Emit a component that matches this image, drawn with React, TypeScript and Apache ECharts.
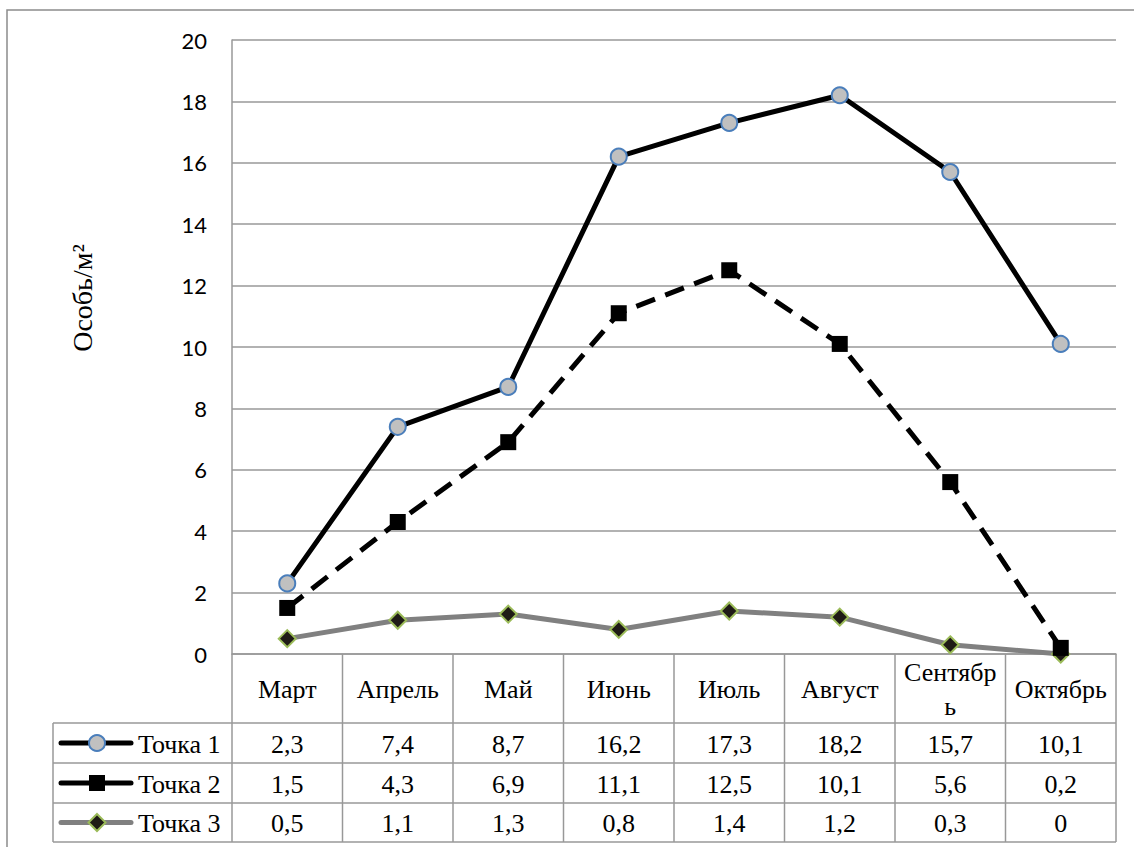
import React, { useEffect, useRef } from "react";
import * as echarts from "echarts";

const months = ["Март", "Апрель", "Май", "Июнь", "Июль", "Август", "Сентябрь", "Октябрь"];
const seriesNames = ["Точка 1", "Точка 2", "Точка 3"];
const point1 = [2.3, 7.4, 8.7, 16.2, 17.3, 18.2, 15.7, 10.1];
const point2 = [1.5, 4.3, 6.9, 11.1, 12.5, 10.1, 5.6, 0.2];
const point3 = [0.5, 1.1, 1.3, 0.8, 1.4, 1.2, 0.3, 0];
const yTicks = { min: 0, max: 20, interval: 2 };
const yTitle = "Особь/м²";

const GRID = "#989898";
const SERIF = "Liberation Serif";
const SANS = "Lato";

export default function App() {
  const ref = useRef<HTMLDivElement>(null);
  useEffect(() => {
    document.body.style.margin = "0";
    const chart = echarts.init(ref.current!, null, { renderer: "svg" });
    const styles = [
      {
        line: { color: "#000", width: 5, type: "solid" },
        symbol: "circle",
        size: 16,
        item: { color: "#c0c0c0", borderColor: "#4a7ebb", borderWidth: 2 },
      },
      {
        line: { color: "#000", width: 5, type: [20, 11] },
        symbol: "rect",
        size: 16,
        item: { color: "#000", borderColor: "#000", borderWidth: 0 },
      },
      {
        line: { color: "#808080", width: 5, type: "solid" },
        symbol: "diamond",
        size: 17,
        item: { color: "#1f1b16", borderColor: "#9bbb59", borderWidth: 2 },
      },
    ];
    const data = [point1, point2, point3];
    const option: any = {
      animation: false,
      textStyle: { fontFamily: SERIF },
      grid: { left: 232, right: 18, top: 40, bottom: 193 },
      xAxis: {
        type: "category",
        data: months,
        boundaryGap: true,
        axisLine: { show: true, lineStyle: { color: GRID, width: 1.5 } },
        axisTick: { show: false },
        splitLine: { show: false },
        axisLabel: {
          interval: 0,
          margin: 35,
          verticalAlign: "middle",
          fontFamily: SERIF,
          fontSize: 26,
          lineHeight: 34,
          color: "#000",
          formatter: (v: string) => (v === "Сентябрь" ? "Сентябр\nь" : v),
        },
      },
      yAxis: {
        type: "value",
        min: yTicks.min,
        max: yTicks.max,
        interval: yTicks.interval,
        axisLine: { show: true, lineStyle: { color: GRID, width: 1.5 } },
        axisTick: { show: false },
        splitLine: { show: true, lineStyle: { color: GRID, width: 1.5 } },
        axisLabel: { margin: 25, fontFamily: SANS, fontSize: 22, color: "#000" },
      },
      series: data.map((d, i) => ({
        name: seriesNames[i],
        type: "line",
        data: d,
        symbol: styles[i].symbol,
        symbolSize: styles[i].size,
        showAllSymbol: true,
        lineStyle: styles[i].line,
        itemStyle: styles[i].item,
        z: 3 - i + 2,
      })),
    };
    chart.setOption(option);

    const c0 = chart.convertToPixel({ xAxisIndex: 0 }, 0) as number;
    const c1 = chart.convertToPixel({ xAxisIndex: 0 }, 1) as number;
    const w = c1 - c0;
    const gridLeft = c0 - w / 2;
    const gridRight = gridLeft + w * months.length;
    const yAxisBottom = chart.convertToPixel({ yAxisIndex: 0 }, 0) as number;
    const rowTops = [yAxisBottom + 69, yAxisBottom + 109, yAxisBottom + 149, yAxisBottom + 188];
    const tableLeft = 53;
    const lineSt = { stroke: GRID, lineWidth: 1.5 };
    const g: any[] = [];
    g.push({ type: "rect", shape: { x: 7, y: 10, width: 1150, height: 860 }, style: { fill: "none", stroke: "#8c8c8c", lineWidth: 1.5 }, z: 0 });
    for (let i = 0; i <= months.length; i++) {
      const x = gridLeft + i * w;
      g.push({ type: "line", shape: { x1: x, y1: yAxisBottom, x2: x, y2: rowTops[3] }, style: lineSt });
    }
    g.push({ type: "line", shape: { x1: tableLeft, y1: rowTops[0], x2: tableLeft, y2: rowTops[3] }, style: lineSt });
    rowTops.forEach((y) => {
      g.push({ type: "line", shape: { x1: tableLeft, y1: y, x2: gridRight, y2: y }, style: lineSt });
    });
    const txt = (text: string, x: number, y: number, align: string, size: number, extra: any = {}) => ({
      type: "text",
      x,
      y,
      ...extra,
      style: { text, font: size + "px " + SERIF, fill: "#000", align, verticalAlign: "middle" },
    });
    data.forEach((d, r) => {
      const cy = (rowTops[r] + rowTops[r + 1]) / 2 + 1;
      d.forEach((v, i) => {
        g.push(txt(String(v).replace(".", ","), gridLeft + (i + 0.5) * w, cy, "center", 26));
      });
      const st = styles[r];
      g.push({ type: "line", shape: { x1: 61, y1: cy - 1, x2: 131, y2: cy - 1 }, style: { stroke: st.line.color, lineWidth: 5, lineCap: "round" } });
      const mx = 97;
      const my = cy - 1;
      if (st.symbol === "circle") {
        g.push({ type: "circle", shape: { cx: mx, cy: my, r: 8 }, style: { fill: st.item.color, stroke: st.item.borderColor, lineWidth: 2 } });
      } else if (st.symbol === "rect") {
        g.push({ type: "rect", shape: { x: mx - 8, y: my - 8, width: 16, height: 16 }, style: { fill: "#000" } });
      } else {
        g.push({
          type: "polygon",
          shape: { points: [[mx, my - 8.5], [mx + 8.5, my], [mx, my + 8.5], [mx - 8.5, my]] },
          style: { fill: st.item.color, stroke: st.item.borderColor, lineWidth: 2 },
        });
      }
      g.push(txt(seriesNames[r], 138, cy, "left", 26));
    });
    g.push(txt(yTitle, 82, 298, "center", 28, { rotation: Math.PI / 2 }));
    chart.setOption({ graphic: g });
    return () => chart.dispose();
  }, []);
  return <div ref={ref} style={{ width: 1134, height: 847 }} />;
}
